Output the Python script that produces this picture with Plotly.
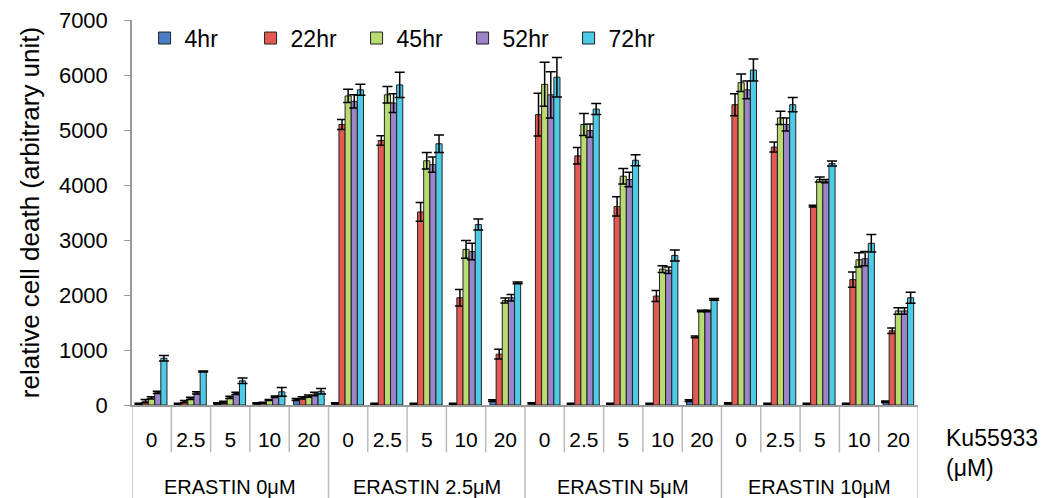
import plotly.graph_objects as go

# ---------------- data ----------------
erastin = ["ERASTIN 0μM", "ERASTIN 2.5μM", "ERASTIN 5μM", "ERASTIN 10μM"]
ku = ["0", "2.5", "5", "10", "20"]

series_names = ["4hr", "22hr", "45hr", "52hr", "72hr"]
series_colors = ["#4A7EC6", "#E45A52", "#B9DC72", "#9B84C8", "#4CCBE6"]

v_4hr = [20, 20, 30, 30, 100,   30, 20, 20, 20, 80,   30, 20, 20, 20, 80,   30, 20, 20, 20, 60]
v_22hr = [70, 60, 50, 40, 130,  5100, 4810, 3510, 1950, 925,  5280, 4530, 3610, 1980, 1240,  5460, 4690, 3615, 2280, 1350]
v_45hr = [130, 120, 140, 90, 160,  5620, 5640, 4440, 2830, 1900,  5830, 5100, 4160, 2470, 1710,  5860, 5220, 4100, 2640, 1710]
v_52hr = [230, 220, 210, 150, 200,  5520, 5490, 4370, 2790, 1950,  5640, 4990, 4100, 2450, 1710,  5730, 5100, 4070, 2660, 1710]
v_72hr = [850, 610, 440, 240, 250,  5730, 5820, 4750, 3280, 2220,  5960, 5380, 4450, 2720, 1920,  6090, 5460, 4390, 2940, 1950]

e_4hr = [10, 10, 10, 10, 20,   10, 10, 10, 10, 15,   10, 10, 10, 10, 15,   10, 10, 10, 10, 15]
e_22hr = [30, 20, 20, 10, 20,  90, 85, 170, 150, 90,  390, 150, 175, 100, 15,  200, 90, 15, 140, 50]
e_45hr = [20, 20, 20, 10, 20,  120, 150, 150, 160, 45,  400, 200, 140, 60, 15,  160, 120, 45, 130, 60]
e_52hr = [20, 20, 20, 15, 30,  120, 170, 140, 150, 60,  420, 120, 130, 60, 15,  160, 120, 30, 130, 60]
e_72hr = [50, 10, 50, 80, 50,  100, 230, 160, 100, 15,  360, 100, 100, 100, 15,  200, 130, 45, 160, 100]

values = [v_4hr, v_22hr, v_45hr, v_52hr, v_72hr]
errors = [e_4hr, e_22hr, e_45hr, e_52hr, e_72hr]

y_ticks = [0, 1000, 2000, 3000, 4000, 5000, 6000, 7000]

# ---------------- figure ----------------
inner = [k for _ in erastin for k in ku]
n_cat = len(inner)
xpos = list(range(n_cat))
FONT = "Liberation Sans, Arial, sans-serif"

fig = go.Figure()
for name, col, vals, errs in zip(series_names, series_colors, values, errors):
    fig.add_trace(go.Bar(
        name=name,
        x=xpos,
        y=vals,
        marker=dict(color=col, line=dict(color="#222222", width=1)),
        error_y=dict(type="data", array=errs, visible=True,
                     color="#000000", thickness=1.5, width=5),
    ))

# table lines below the axis (cells for Ku55933 doses and ERASTIN groups)
shapes = []
gray = "#BBBBBB"
for k in range(n_cat + 1):
    is_outer = (k % len(ku) == 0)
    shapes.append(dict(
        type="line", xref="x", yref="paper",
        x0=k - 0.5, x1=k - 0.5, y0=0,
        y1=-0.245 if is_outer else -0.123,
        line=dict(color=gray, width=1.5),
        layer="below",
    ))

annotations = []
for g, label in enumerate(erastin):
    annotations.append(dict(
        text=label, xref="x", yref="paper",
        x=g * len(ku) + (len(ku) - 1) / 2, y=-0.214,
        xanchor="center", yanchor="middle", showarrow=False,
        font=dict(size=20, family=FONT),
    ))
annotations.append(dict(
    text="Ku55933<br>(μM)", xref="paper", yref="paper",
    x=1.0325, y=-0.125, xanchor="left", yanchor="middle", align="left",
    showarrow=False, font=dict(size=23, family=FONT),
))

fig.update_layout(
    width=1043, height=498,
    margin=dict(l=132, r=125, t=20, b=93, autoexpand=False),
    paper_bgcolor="white", plot_bgcolor="white",
    barmode="group", bargap=0.22, bargroupgap=0,
    font=dict(family=FONT, color="#000000"),
    showlegend=True,
    legend=dict(orientation="h", x=0.016, y=0.953, xanchor="left", yanchor="middle",
                font=dict(size=23, family=FONT),
                entrywidth=61, entrywidthmode="pixels",
                bgcolor="rgba(0,0,0,0)", traceorder="normal"),
    shapes=shapes,
    annotations=annotations,
)

fig.update_yaxes(
    range=[0, 7000], tickvals=y_ticks, ticktext=[str(t) for t in y_ticks],
    automargin=False,
    showgrid=False, zeroline=False,
    showline=True, linecolor="#999999", linewidth=1.5,
    ticks="outside", ticklen=6, tickcolor="#999999",
    ticklabelstandoff=12,
    tickfont=dict(size=22, family=FONT),
    title=dict(text="relative cell death (arbitrary unit)",
               font=dict(size=26, family=FONT),
               standoff=12),
)

fig.update_xaxes(
    range=[-0.5, n_cat - 0.5],
    tickvals=xpos, ticktext=inner,
    automargin=False,
    showgrid=False, zeroline=False,
    showline=True, linecolor="#999999", linewidth=1.5,
    ticks="", ticklabelstandoff=15,
    tickfont=dict(size=21, family=FONT),
)

fig.write_html("out.html",
               config={"displayModeBar": False},
               post_script="document.body.style.margin='0';document.body.style.overflow='hidden';")
